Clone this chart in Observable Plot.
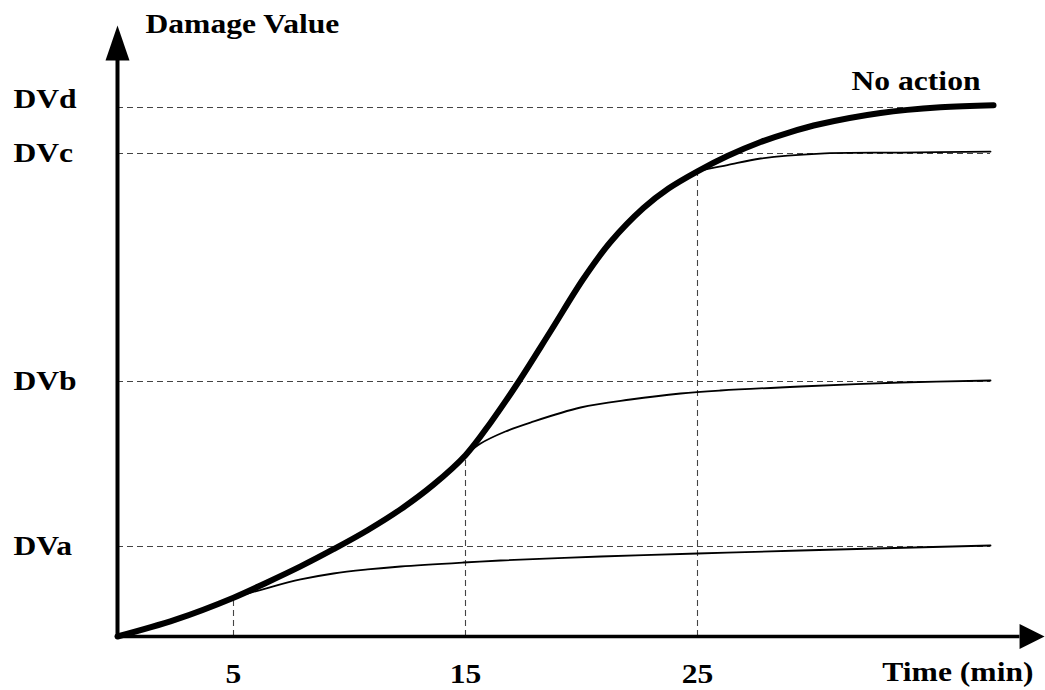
<!DOCTYPE html>
<html><head><meta charset="utf-8">
<script src="https://cdn.jsdelivr.net/npm/d3@7"></script>
<script src="https://cdn.jsdelivr.net/npm/@observablehq/plot@0.6"></script>
<style>body{margin:0;background:#fff} svg{display:block}</style>
</head><body><div id="chart"></div>
<script>
// Damage levels (arbitrary units, DVd = 100)
const levelLabels = ["DVa", "DVb", "DVc", "DVd"];
const levelValues = [17.0, 48.2, 91.3, 100];
// Time ticks (min)
const tickTimes = [5, 15, 25];
const tickLabels = ["5", "15", "25"];
// "No action" curve
const noActionT = [0, 2.5, 5, 6.42, 7.89, 9.31, 10.78, 12.2, 13.62, 15, 16.08, 17.24, 18.66, 20.09, 21.25, 22.67, 23.75, 25, 26.29, 27.72, 29.01, 30.30, 32.89, 35.47, 37.76];
const noActionV = [0, 3.18, 7.33, 10.17, 13.25, 16.50, 20.09, 24.03, 28.70, 34.27, 40.42, 47.83, 57.66, 67.67, 74.57, 81.00, 84.69, 87.94, 90.83, 93.48, 95.37, 96.88, 98.96, 100.04, 100.42];
// Action taken at 5 min
const act5T = [5, 6.38, 7.89, 9.31, 10.78, 12.2, 14.91, 16.51, 20.82, 25, 29.44, 37.63];
const act5V = [7.33, 9.07, 10.78, 11.91, 12.67, 13.23, 13.99, 14.37, 15.12, 15.69, 16.26, 17.20];
// Action taken at 15 min
const act15T = [15, 15.65, 16.72, 17.80, 19.96, 22.11, 24.27, 25.99, 29.44, 33.75, 37.63];
const act15V = [34.27, 36.48, 38.75, 40.45, 43.29, 44.80, 45.94, 46.50, 47.26, 48.02, 48.39];
// Action taken at 25 min
const act25T = [25, 25.56, 26.29, 27.72, 30.30, 33.75, 37.63];
const act25V = [87.94, 88.50, 89.10, 90.36, 91.30, 91.49, 91.68];

const xMax = 40, yMax = 120.23;
const lineEnd = 37.63;
const font = "'Liberation Serif', 'Times New Roman', serif";
const fs = 27;

const toRows = (ts, vs, s) => ts.map((t, i) => ({series: s, t, v: vs[i]}));
const mainRows = toRows(noActionT, noActionV, "No action");
const branchRows = [
  ...toRows(act5T, act5V, "5"),
  ...toRows(act15T, act15V, "15"),
  ...toRows(act25T, act25V, "25")
];
const startOf = t => noActionV[noActionT.indexOf(t)];

const upArrow = {draw(ctx) { ctx.moveTo(0, 0); ctx.lineTo(-12, 35); ctx.lineTo(12, 35); ctx.closePath(); }};
const rightArrow = {draw(ctx) { ctx.moveTo(0, 0); ctx.lineTo(-25, -12.5); ctx.lineTo(-25, 12.5); ctx.closePath(); }};

const txt = {fontSize: fs, fontWeight: "bold", fontFamily: font, fill: "#000"};

const chart = Plot.plot({
  width: 1045, height: 690,
  marginLeft: 117, marginRight: 0, marginTop: 0, marginBottom: 54,
  x: {domain: [0, xMax], axis: null},
  y: {domain: [0, yMax], axis: null},
  style: {background: "#fff"},
  marks: [
    Plot.ruleY(levelValues, {y: d => d, x1: 0, x2: lineEnd, stroke: "#444", strokeWidth: 1.1, strokeDasharray: "6,4"}),
    Plot.ruleX(tickTimes, {x: d => d, y1: 0, y2: d => startOf(d), stroke: "#444", strokeWidth: 1.1, strokeDasharray: "6,4"}),
    Plot.line(branchRows, {x: "t", y: "v", z: "series", curve: "catmull-rom", stroke: "#000", strokeWidth: 1.8}),
    Plot.line(mainRows, {x: "t", y: "v", curve: "catmull-rom", stroke: "#000", strokeWidth: 6, strokeLinecap: "round"}),
    // axes
    Plot.ruleX([0], {x: d => d, y1: 0, y2: 108.9, stroke: "#000", strokeWidth: 4}),
    Plot.ruleY([0], {y: d => d, x1: 0, x2: 38.9, stroke: "#000", strokeWidth: 3.5}),
    Plot.dot([0], {x: 0, y: 115.5, symbol: upArrow, r: 5, fill: "#000", stroke: "none"}),
    Plot.dot([0], {x: 39.96, y: 0, symbol: rightArrow, r: 5, fill: "#000", stroke: "none"}),
    // labels
    Plot.text(levelLabels.slice(0, 3), {x: 0, y: (d, i) => levelValues[i], text: d => d, dx: -104, textAnchor: "start", ...txt}),
    Plot.text(levelLabels.slice(3), {x: 0, y: levelValues[3], text: d => d, dx: -104, dy: -8, textAnchor: "start", ...txt}),
    Plot.text(tickLabels, {x: (d, i) => tickTimes[i], y: 0, text: d => d, dy: 38, ...txt}),
    Plot.text(["Damage Value"], {x: 0, y: 115.5, text: d => d, dx: 28, dy: -1, textAnchor: "start", ...txt}),
    Plot.text(["No action"], {x: lineEnd, y: 100, text: d => d, dx: -10, dy: -26, textAnchor: "end", ...txt}),
    Plot.text(["Time (min)"], {x: xMax, y: 0, text: d => d, dx: -12, dy: 36, textAnchor: "end", ...txt})
  ]
});
// widen the bold serif glyphs horizontally like the reference lettering (scale about each anchor)
d3.select(chart).selectAll("text").each(function() {
  const xa = this.getAttribute("x");
  const x = xa != null && !isNaN(+xa) ? +xa : 0;
  const t = this.getAttribute("transform") || "";
  this.setAttribute("transform", `${t} translate(${x},0) scale(1.17,1) translate(${-x},0)`);
});
document.getElementById("chart").append(chart);
</script>
</body></html>
